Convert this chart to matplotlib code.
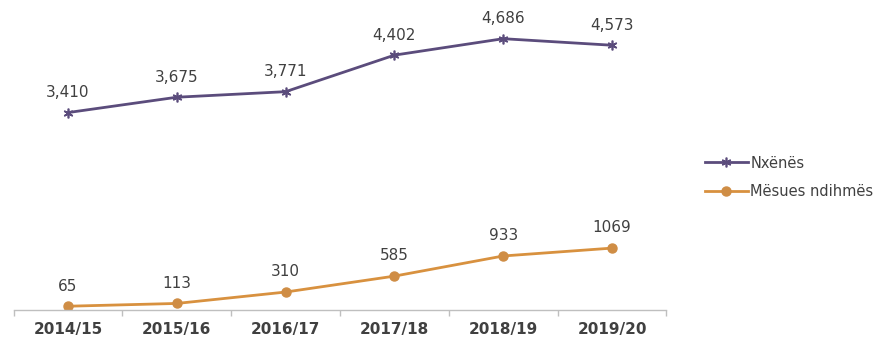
import matplotlib
matplotlib.use("Agg")
import matplotlib.pyplot as plt

years = ["2014/15", "2015/16", "2016/17", "2017/18", "2018/19", "2019/20"]
nxenes = [3410, 3675, 3771, 4402, 4686, 4573]
mesues = [65, 113, 310, 585, 933, 1069]
nxenes_labels = ["3,410", "3,675", "3,771", "4,402", "4,686", "4,573"]
mesues_labels = ["65", "113", "310", "585", "933", "1069"]

purple = "#5b4c7c"
orange = "#d8913f"
text_col = "#404040"

fig = plt.figure(figsize=(8.91, 3.42), dpi=100)
ax = fig.add_axes([0.0152, 0.0936, 0.7328, 0.8464])

x = list(range(len(years)))
l1, = ax.plot(x, nxenes, color=purple, lw=2.0, marker=(6, 2, 0),
              markersize=7, markeredgewidth=1.2, markeredgecolor=purple,
              label="Nxënës")
l2, = ax.plot(x, mesues, color=orange, lw=2.0, marker="o",
              markersize=6.5, markerfacecolor="#cf8d45",
              markeredgecolor="#cf8d45", label="Mësues ndihmës")

for xi, v, t in zip(x, nxenes, nxenes_labels):
    ax.annotate(t, (xi, v), xytext=(0, 14.5), textcoords="offset points",
                ha="center", va="center", fontsize=11, color=text_col)
for xi, v, t in zip(x, mesues, mesues_labels):
    ax.annotate(t, (xi, v), xytext=(0, 14.5), textcoords="offset points",
                ha="center", va="center", fontsize=11, color=text_col)

ax.set_xlim(-0.5, len(years) - 0.5)
ax.set_ylim(0, 5000)
ax.set_yticks([])
for s in ["top", "right", "left"]:
    ax.spines[s].set_visible(False)
ax.spines["bottom"].set_color("#bfbfbf")
ax.spines["bottom"].set_linewidth(1.0)

# category labels centred, tick marks at category boundaries
ax.set_xticks(x)
ax.set_xticklabels(years, fontsize=11, fontweight="bold", color=text_col)
ax.tick_params(axis="x", which="major", length=0, pad=9)
ax.set_xticks([i - 0.5 for i in range(len(years) + 1)], minor=True)
ax.tick_params(axis="x", which="minor", length=4, color="#bfbfbf", width=1.0)

fig.legend(handles=[l1, l2], loc="center left", bbox_to_anchor=(0.776, 0.481),
           frameon=False, fontsize=10.5, handlelength=3.0, handletextpad=0.15,
           labelspacing=0.95, labelcolor=text_col)

fig.savefig("out.png", dpi=100, facecolor="white")
